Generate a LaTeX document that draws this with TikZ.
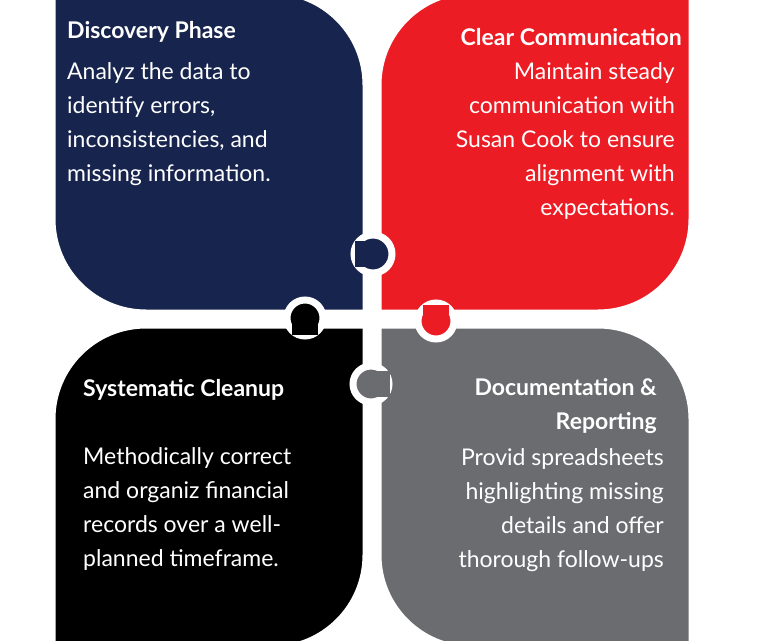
\documentclass[tikz,border=0pt]{standalone}
\usepackage{fontspec}
\setmainfont{Lato}
\usetikzlibrary{positioning}
\definecolor{navy}{HTML}{17244D}
\definecolor{redp}{HTML}{EC1C24}
\definecolor{greyp}{HTML}{6B6C70}
\tikzset{piece/.style={draw=white,line width=9pt},
  knob/.style={draw=white,line width=7pt},
  title/.style={text=white,font=\fontsize{23}{28}\selectfont\bfseries,inner sep=0pt},
  body/.style={text=white,font=\fontsize{23}{34}\selectfont,inner sep=0pt}}
\begin{document}
\begin{tikzpicture}[x=1pt,y=-1pt]
\useasboundingbox (0,0) rectangle (768,640);
\begin{scope}
\clip (0,0) rectangle (768,640);
% the four pieces
\fill[navy,piece] (51,-10) -- (272,-10) arc[start angle=-90,end angle=0,radius=95] -- (367,314) -- (146,314) arc[start angle=90,end angle=180,radius=95] -- cycle;
\fill[redp,piece] (693,-10) -- (693,219) arc[start angle=0,end angle=90,radius=95] -- (377,314) -- (377,85) arc[start angle=180,end angle=270,radius=95] -- cycle;
\fill[black,piece] (51,650) -- (51,419) arc[start angle=180,end angle=270,radius=95] -- (367,324) -- (367,555) arc[start angle=0,end angle=90,radius=95] -- cycle;
\fill[greyp,piece] (693,650) -- (472,650) arc[start angle=90,end angle=180,radius=95] -- (377,324) -- (598,324) arc[start angle=-90,end angle=0,radius=95] -- cycle;
% knobs
\fill[navy,knob] (373,254) circle (19);
\fill[navy] (355,241) rectangle (374,267);
\fill[black,knob] (305,318) circle (18);
\fill[black] (292,318) rectangle (318,335);
\fill[redp,knob] (436,321) circle (18);
\fill[redp] (423,305) rectangle (449,321);
\fill[greyp,knob] (371,384) circle (18);
\fill[greyp] (371,371) rectangle (390,397);
\end{scope}
% texts
\node[title,anchor=west] (t1) at (67,32) {Discovery Phase};
\node[body,anchor=north west,align=left] (b1) at (67,62) {Analyz the data to\\identify errors,\\inconsistencies, and\\missing information.};
\node[title,anchor=east] (t2) at (682,37) {Clear Communication};
\node[body,anchor=north east,align=right] (b2) at (675,62) {Maintain steady\\communication with\\Susan Cook to ensure\\alignment with\\expectations.};
\node[title,anchor=west] (t3) at (83,390) {Systematic Cleanup};
\node[body,anchor=north west,align=left] (b3) at (83,447) {Methodically correct\\and organiz financial\\records over a well-\\planned timeframe.};
\node[title,anchor=north east,align=right,font=\fontsize{23}{34}\selectfont\bfseries] (t4) at (657,378) {Documentation \&\\Reporting};
\node[body,anchor=north east,align=right] (b4) at (664,448) {Provid spreadsheets\\highlighting missing\\details and offer\\thorough follow-ups};
\end{tikzpicture}
\end{document}
